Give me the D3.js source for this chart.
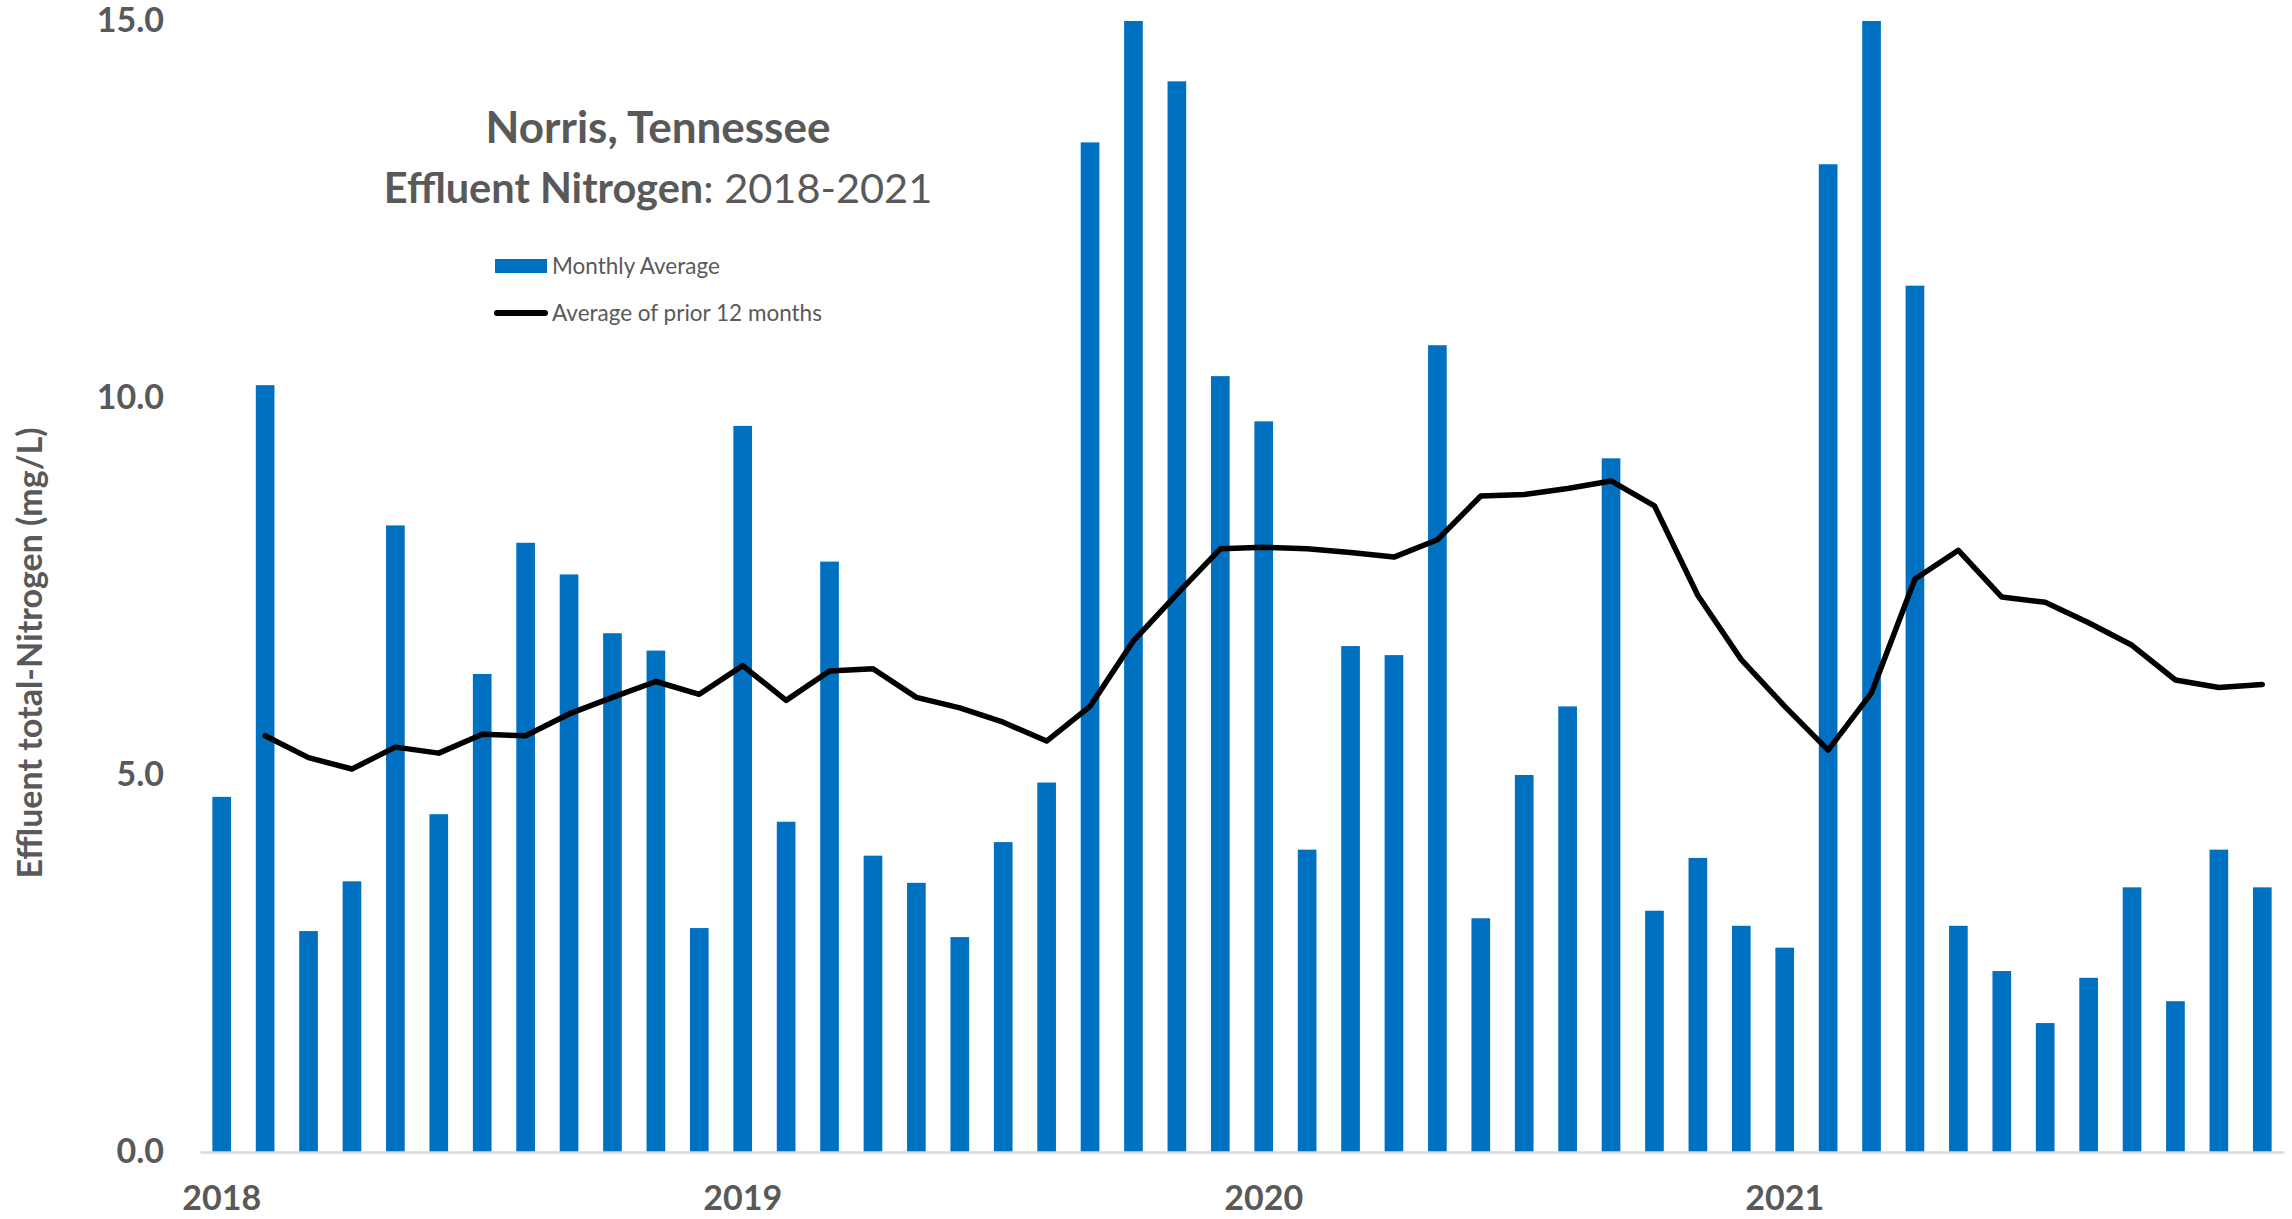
<!DOCTYPE html>
<html>
<head>
<meta charset="utf-8">
<script src="https://cdn.jsdelivr.net/npm/d3@7"></script>
<style>
  html, body { margin: 0; padding: 0; background: #fff; }
  svg { display: block; }
  text { font-family: Lato, "Open Sans", sans-serif; fill: #595959; }
</style>
</head>
<body>
<svg id="chart" width="2292" height="1219"></svg>
<script>
// ---- data ----
const months = [
  "2018-01","2018-02","2018-03","2018-04","2018-05","2018-06","2018-07","2018-08","2018-09","2018-10","2018-11","2018-12",
  "2019-01","2019-02","2019-03","2019-04","2019-05","2019-06","2019-07","2019-08","2019-09","2019-10","2019-11","2019-12",
  "2020-01","2020-02","2020-03","2020-04","2020-05","2020-06","2020-07","2020-08","2020-09","2020-10","2020-11","2020-12",
  "2021-01","2021-02","2021-03","2021-04","2021-05","2021-06","2021-07","2021-08","2021-09","2021-10","2021-11","2021-12"
];
const monthlyAverage = [
  4.71, 10.17, 2.93, 3.59, 8.31, 4.48, 6.34, 8.08, 7.66, 6.88, 6.65, 2.97,
  9.63, 4.38, 7.83, 3.93, 3.57, 2.85, 4.11, 4.90, 13.39, 15.0, 14.2, 10.29,
  9.69, 4.01, 6.71, 6.59, 10.70, 3.10, 5.00, 5.91, 9.20, 3.20, 3.90, 3.00,
  2.71, 13.10, 15.0, 11.49, 3.00, 2.40, 1.71, 2.31, 3.51, 2.00, 4.01, 3.51
];
const priorTwelveAverage = [
  null, 5.52, 5.23, 5.08, 5.37, 5.29, 5.54, 5.52, 5.81, 6.03, 6.24, 6.07,
  6.45, 5.99, 6.38, 6.41, 6.03, 5.89, 5.70, 5.45, 5.91, 6.78, 7.40, 8.00,
  8.02, 8.00, 7.95, 7.89, 8.12, 8.70, 8.72, 8.80, 8.90, 8.57, 7.38, 6.53,
  5.91, 5.33, 6.09, 7.60, 7.98, 7.36, 7.29, 7.02, 6.72, 6.26, 6.16, 6.20
];
const yearTickIndex = [0, 12, 24, 36];
const yearTickLabels = ["2018", "2019", "2020", "2021"];
const yTicks = [0, 5, 10, 15];
const seriesNames = ["Monthly Average", "Average of prior 12 months"];

// ---- layout ----
const svg = d3.select("#chart");
const plot = { left: 200, right: 2284, top: 21, bottom: 1152 };

const x = d3.scaleBand()
  .domain(d3.range(months.length))
  .range([plot.left, plot.right])
  .paddingInner(0.57)
  .paddingOuter(0.285);

const y = d3.scaleLinear().domain([0, 15]).range([plot.bottom, plot.top]);

const barColor = "#0070C0";
const labelColor = "#595959";

// bars
svg.append("g")
  .selectAll("rect")
  .data(monthlyAverage)
  .join("rect")
  .attr("x", (d, i) => x(i))
  .attr("width", x.bandwidth())
  .attr("y", d => y(Math.min(d, 15)))
  .attr("height", d => y(0) - y(Math.min(d, 15)))
  .attr("fill", barColor);

// x axis
const xAxis = d3.axisBottom(x)
  .tickValues(yearTickIndex)
  .tickFormat((d) => yearTickLabels[yearTickIndex.indexOf(d)])
  .tickSize(0)
  .tickSizeOuter(0)
  .tickPadding(34);
const gx = svg.append("g")
  .attr("transform", `translate(0,${plot.bottom})`)
  .call(xAxis);
gx.select(".domain").attr("stroke", "#d9d9d9").attr("stroke-width", 2.5);
gx.selectAll("text")
  .attr("font-family", "Lato, sans-serif")
  .attr("font-size", 34)
  .attr("font-weight", 700)
  .attr("fill", labelColor);

// y axis
const yAxis = d3.axisLeft(y)
  .tickValues(yTicks)
  .tickFormat(d3.format(".1f"))
  .tickSize(0)
  .tickPadding(36);
const gy = svg.append("g")
  .attr("transform", `translate(${plot.left},0)`)
  .call(yAxis);
gy.select(".domain").remove();
gy.selectAll("text")
  .attr("font-family", "Lato, sans-serif")
  .attr("font-size", 34)
  .attr("font-weight", 700)
  .attr("fill", labelColor);

// line
const line = d3.line()
  .defined(d => d != null)
  .x((d, i) => x(i) + x.bandwidth() / 2)
  .y(d => y(d));
svg.append("path")
  .datum(priorTwelveAverage)
  .attr("d", line)
  .attr("fill", "none")
  .attr("stroke", "#000")
  .attr("stroke-width", 5.5)
  .attr("stroke-linejoin", "round")
  .attr("stroke-linecap", "round");

// y axis title
svg.append("text")
  .attr("transform", "translate(42,653) rotate(-90)")
  .attr("text-anchor", "middle")
  .attr("font-size", 34)
  .attr("font-weight", 700)
  .text("Effluent total-Nitrogen (mg/L)");

// title
svg.append("text")
  .attr("x", 658).attr("y", 143)
  .attr("text-anchor", "middle")
  .attr("font-size", 44)
  .attr("font-weight", 700)
  .text("Norris, Tennessee");
const t2 = svg.append("text")
  .attr("x", 658).attr("y", 203)
  .attr("text-anchor", "middle")
  .attr("font-size", 41.5);
t2.append("tspan").attr("font-weight", 700).text("Effluent Nitrogen");
t2.append("tspan").attr("font-weight", 400).text(": 2018-2021");

// legend
const legend = svg.append("g");
legend.append("rect")
  .attr("x", 495).attr("y", 259).attr("width", 52).attr("height", 14)
  .attr("fill", barColor);
legend.append("text")
  .attr("x", 552).attr("y", 266).attr("dy", "0.35em")
  .attr("font-size", 22.5)
  .text(seriesNames[0]);
legend.append("line")
  .attr("x1", 497).attr("x2", 545).attr("y1", 313).attr("y2", 313)
  .attr("stroke", "#000").attr("stroke-width", 6).attr("stroke-linecap", "round");
legend.append("text")
  .attr("x", 552).attr("y", 313).attr("dy", "0.35em")
  .attr("font-size", 22.5)
  .text(seriesNames[1]);
</script>
</body>
</html>
